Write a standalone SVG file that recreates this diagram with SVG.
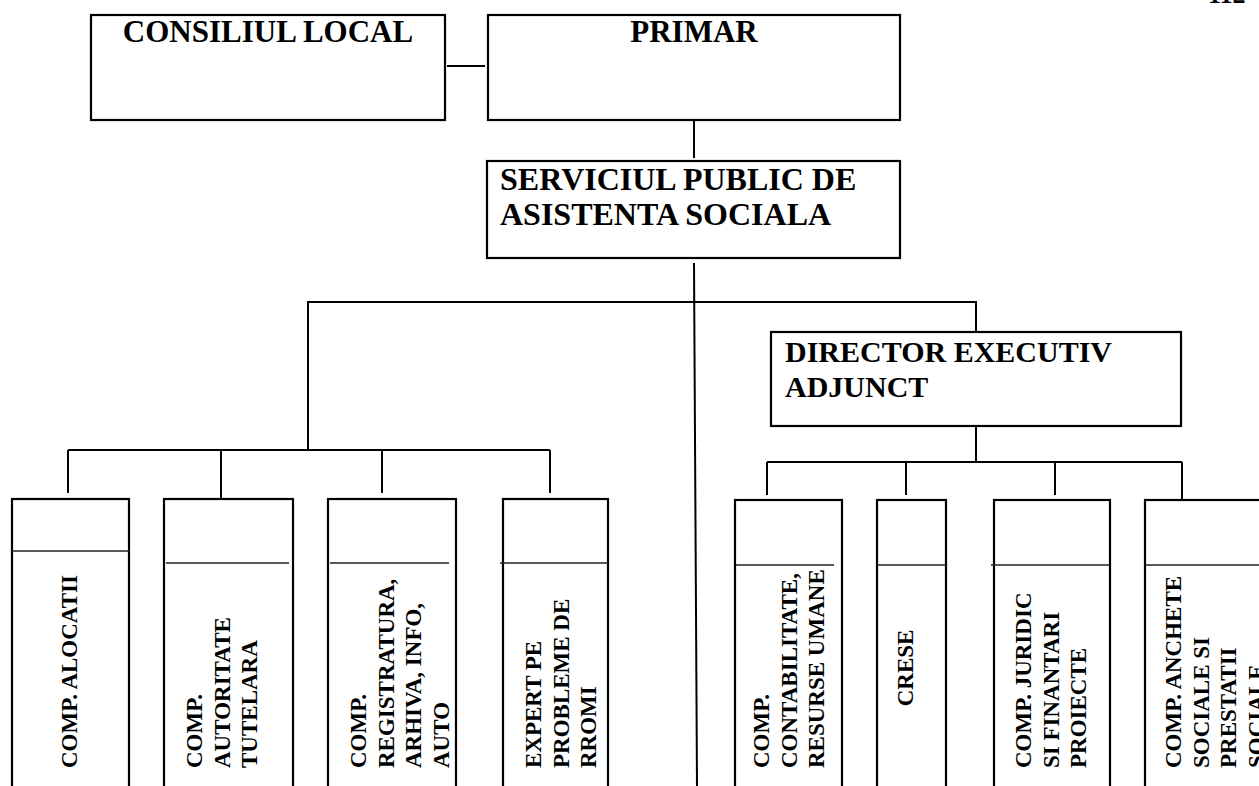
<svg xmlns="http://www.w3.org/2000/svg" width="1259" height="786" viewBox="0 0 1259 786">
<style>
.box{fill:#fff;stroke:#000;stroke-width:2.2}
.ln{fill:none;stroke:#000;stroke-width:2}
.dv{fill:none;stroke:#222;stroke-width:1.6}
.t{font-family:"Liberation Serif","Times New Roman",serif;font-weight:bold;fill:#000}
.v{font-size:23px}
</style>
<rect width="1259" height="786" fill="#fff"/>
<text class="t" x="1208" y="3" font-size="26">112</text>
<g id="connectors">
<line class="ln" x1="447" y1="66" x2="485" y2="66"/>
<line class="ln" x1="694" y1="120" x2="694" y2="158"/>
<line class="ln" x1="694" y1="263" x2="697" y2="786"/>
<polyline class="ln" points="308,450 308,302 976,302 976,332"/>
<line class="ln" x1="68" y1="450" x2="550" y2="450"/>
<line class="ln" x1="68" y1="450" x2="68" y2="493"/>
<line class="ln" x1="221" y1="450" x2="221" y2="503"/>
<line class="ln" x1="382" y1="450" x2="382" y2="493"/>
<line class="ln" x1="550" y1="450" x2="550" y2="493"/>
<line class="ln" x1="976" y1="426" x2="976" y2="462"/>
<line class="ln" x1="767" y1="462" x2="1182" y2="462"/>
<line class="ln" x1="767" y1="462" x2="767" y2="495"/>
<line class="ln" x1="906" y1="462" x2="906" y2="495"/>
<line class="ln" x1="1055" y1="462" x2="1055" y2="495"/>
<line class="ln" x1="1182" y1="462" x2="1182" y2="506"/>
</g>
<g id="consiliul">
<rect class="box" x="91" y="15" width="354" height="105"/>
<text class="t" x="268" y="42" font-size="31" text-anchor="middle">CONSILIUL LOCAL</text>
</g>
<g id="primar">
<rect class="box" x="488" y="15" width="412" height="105"/>
<text class="t" x="694" y="42" font-size="31" text-anchor="middle">PRIMAR</text>
</g>
<g id="serviciul">
<rect class="box" x="487" y="161" width="413" height="97"/>
<text class="t" x="500" y="190" font-size="32">SERVICIUL PUBLIC DE</text>
<text class="t" x="500" y="225" font-size="32">ASISTENTA SOCIALA</text>
</g>
<g id="director">
<rect class="box" x="771" y="332" width="410" height="94"/>
<text class="t" x="785" y="362" font-size="30">DIRECTOR EXECUTIV</text>
<text class="t" x="785" y="397" font-size="30">ADJUNCT</text>
</g>
<g id="alocatii">
<rect class="box" x="12" y="499" width="117" height="300"/>
<line class="dv" x1="12" y1="551" x2="129" y2="551"/>
<text class="t v" transform="translate(77,768) rotate(-90)">COMP. ALOCATII</text>
</g>
<g id="autoritate">
<rect class="box" x="164" y="499" width="129" height="300"/>
<line class="dv" x1="166" y1="563" x2="289" y2="563"/>
<text class="t v" transform="translate(202,768) rotate(-90)"><tspan x="0" y="0">COMP.</tspan><tspan x="0" y="27.5">AUTORITATE</tspan><tspan x="0" y="55">TUTELARA</tspan></text>
</g>
<g id="registratura">
<rect class="box" x="328" y="499" width="128" height="300"/>
<line class="dv" x1="330" y1="563" x2="449" y2="563"/>
<text class="t v" transform="translate(366,768) rotate(-90)"><tspan x="0" y="0">COMP.</tspan><tspan x="0" y="27.5">REGISTRATURA,</tspan><tspan x="0" y="55">ARHIVA, INFO,</tspan><tspan x="0" y="82.5">AUTO</tspan></text>
</g>
<g id="expert">
<rect class="box" x="503" y="499" width="105" height="300"/>
<line class="dv" x1="500" y1="563" x2="608" y2="563"/>
<text class="t v" transform="translate(541,768) rotate(-90)"><tspan x="0" y="0">EXPERT PE</tspan><tspan x="0" y="27.5">PROBLEME DE</tspan><tspan x="0" y="55">RROMI</tspan></text>
</g>
<g id="contabilitate">
<rect class="box" x="735" y="500" width="107" height="300"/>
<line class="dv" x1="736" y1="565" x2="834" y2="565"/>
<text class="t v" transform="translate(769,768) rotate(-90)"><tspan x="0" y="0">COMP.</tspan><tspan x="0" y="27.5">CONTABILITATE,</tspan><tspan x="0" y="55">RESURSE UMANE</tspan></text>
</g>
<g id="crese">
<rect class="box" x="877" y="500" width="69" height="300"/>
<line class="dv" x1="877" y1="565" x2="946" y2="565"/>
<text class="t v" text-anchor="middle" transform="translate(913,668) rotate(-90)">CRESE</text>
</g>
<g id="juridic">
<rect class="box" x="994" y="500" width="116" height="300"/>
<line class="dv" x1="991" y1="565" x2="1109" y2="565"/>
<text class="t v" transform="translate(1031,768) rotate(-90)"><tspan x="0" y="0">COMP. JURIDIC</tspan><tspan x="0" y="27.5">SI FINANTARI</tspan><tspan x="0" y="55">PROIECTE</tspan></text>
</g>
<g id="anchete">
<rect class="box" x="1145" y="500" width="130" height="300"/>
<line class="dv" x1="1146" y1="565" x2="1259" y2="565"/>
<text class="t v" transform="translate(1181,768) rotate(-90)"><tspan x="0" y="0">COMP. ANCHETE</tspan><tspan x="0" y="27.5">SOCIALE SI</tspan><tspan x="0" y="55">PRESTATII</tspan><tspan x="0" y="82.5">SOCIALE</tspan></text>
</g>
</svg>
